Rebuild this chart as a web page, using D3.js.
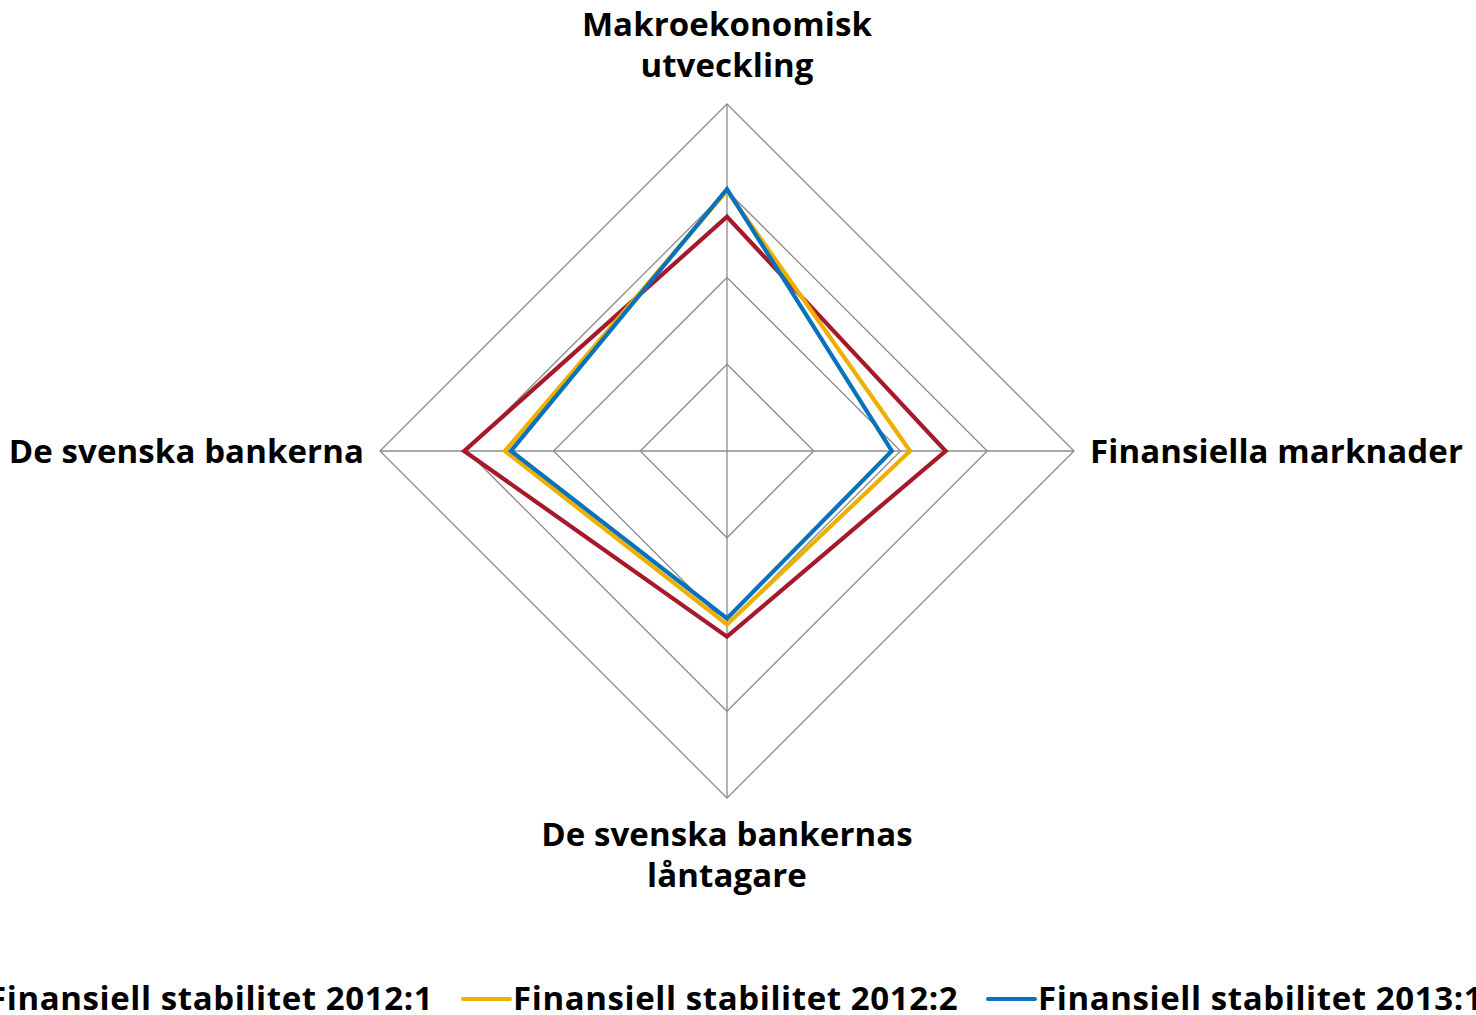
<!DOCTYPE html>
<html><head><meta charset="utf-8">
<script src="https://cdn.jsdelivr.net/npm/d3@7"></script>
<style>body{margin:0;background:#fff}svg{display:block}text{font-family:"Open Sans",sans-serif;font-weight:700;fill:#000}</style>
</head><body><svg id="c" width="1476" height="1015"></svg>
<script>
const axes = [["Makroekonomisk","utveckling"],["Finansiella marknader"],["De svenska bankernas","låntagare"],["De svenska bankerna"]];
const seriesNames = ["Finansiell stabilitet 2012:1","Finansiell stabilitet 2012:2","Finansiell stabilitet 2013:1"];
const s2012_1 = [2.70, 2.52, 2.14, 3.03];
const s2012_2 = [3.00, 2.11, 2.00, 2.56];
const s2013_1 = [3.02, 1.90, 1.93, 2.49];
const gridLevels = [1,2,3,4];
const colors = ["#A6192A","#EEB000","#0A72BA"];
const allSeries = [s2012_1, s2012_2, s2013_1];

const svg = d3.select("#c");
const cx = 727, cy = 451, R = 347;
const r = d3.scaleLinear().domain([0,4]).range([0,R]);
const ang = i => -Math.PI/2 + i*Math.PI/2;
const pt = (i,v) => [cx + r(v)*Math.cos(ang(i)), cy + r(v)*Math.sin(ang(i))];
const line = d3.line().curve(d3.curveLinearClosed);

const g = svg.append("g");
gridLevels.forEach(l => {
  g.append("path").attr("d", line(axes.map((a,i)=>pt(i,l)))).attr("fill","none").attr("stroke","#8c8c8c").attr("stroke-width",1.3);
});
axes.forEach((a,i)=>{
  const p = pt(i,4);
  g.append("line").attr("x1",cx).attr("y1",cy).attr("x2",p[0]).attr("y2",p[1]).attr("stroke","#8c8c8c").attr("stroke-width",1.3);
});
allSeries.forEach((s,k)=>{
  g.append("path").attr("d", line(s.map((v,i)=>pt(i,v)))).attr("fill","none").attr("stroke",colors[k]).attr("stroke-width",4.2).attr("stroke-linejoin","miter");
});

const fs = 33;
const ls = 0.1;
// top label
const t0 = svg.append("text").attr("text-anchor","middle").attr("font-size",fs).attr("letter-spacing",ls);
axes[0].forEach((l,j)=>t0.append("tspan").attr("x",cx).attr("y",36+j*41).text(l));
svg.append("text").attr("x",1090).attr("y",463).attr("font-size",fs).attr("letter-spacing",ls).text(axes[1][0]);
const t2 = svg.append("text").attr("text-anchor","middle").attr("font-size",fs).attr("letter-spacing",ls);
axes[2].forEach((l,j)=>t2.append("tspan").attr("x",cx).attr("y",846+j*41).text(l));
svg.append("text").attr("x",364).attr("y",463).attr("text-anchor","end").attr("font-size",fs).attr("letter-spacing",ls).text(axes[3][0]);

// legend
const lineStarts = [-62, 463, 988];
seriesNames.forEach((n,k)=>{
  const x = lineStarts[k];
  svg.append("line").attr("x1",x).attr("x2",x+47).attr("y1",999).attr("y2",999).attr("stroke",colors[k]).attr("stroke-width",4).attr("stroke-linecap","round");
  svg.append("text").attr("x",x+50).attr("y",1010).attr("font-size",fs).attr("letter-spacing",0.6).text(n);
});
</script></body></html>
